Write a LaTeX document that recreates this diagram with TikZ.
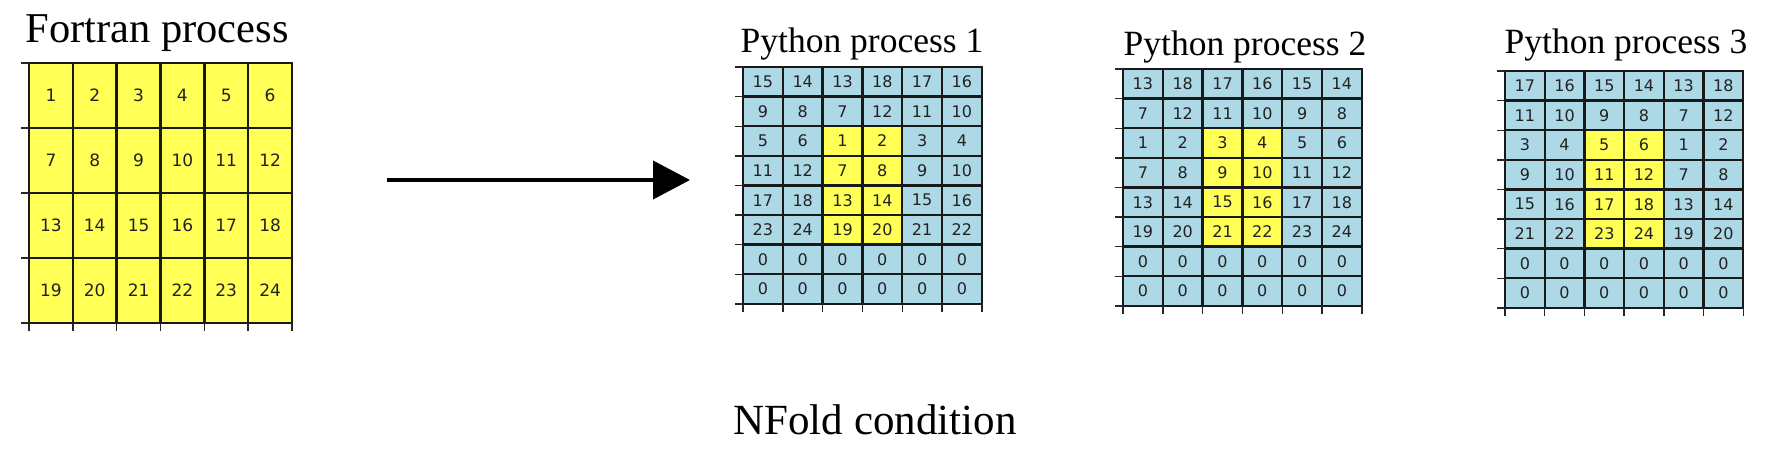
\documentclass[tikz,border=0pt]{standalone}
\usepackage{fontspec}
\setmainfont{Liberation Serif}
\newfontfamily\numfont{DejaVu Sans}
\usetikzlibrary{arrows.meta}

\definecolor{cellyellow}{RGB}{255,255,85}
\definecolor{cellblue}{RGB}{173,216,230}
\definecolor{numgray}{RGB}{34,34,34}

% [style]{name}{x0}{y0}{cell width}{cell height}{rows}{yellow test}{data}
\newcommand{\cellgrid}[9][]{%
  \foreach \row [count=\r] in {#9} {
    \foreach \v [count=\c] in \row {
      \pgfmathtruncatemacro{\hl}{#8}
      \ifnum\hl=1 \def\cc{cellyellow}\else\def\cc{cellblue}\fi
      \node[cell, fill=\cc, minimum width=#5pt, minimum height=#6pt, #1]
        (#2-\r-\c) at ({#3+(\c-0.5)*#5}, {#4+(\r-0.5)*#6}) {\v};
    }
  }
  \foreach \i in {0,...,6}
    \draw[tick] ({#3+\i*#5}, {#4+#7*#6}) -- ++(0, 8);
  \foreach \j in {0,...,#7}
    \draw[tick] (#3, {#4+\j*#6}) -- ++(-8, 0);
}

\begin{document}
\begin{tikzpicture}[x=1pt, y=-1pt]
    \tikzset{
      cell/.style={draw=black!90, line width=2.4pt, inner sep=0pt,
        text=numgray, font=\numfont\fontsize{16}{16}\selectfont},
      tick/.style={line width=1.4pt, black!85},
      title/.style={anchor=base, inner sep=0pt}
    }
    \useasboundingbox (0, 0) rectangle (1768, 474);

    % Fortran side
    \node[title, font=\fontsize{42.5}{48}\selectfont] (ftitle) at (157, 42) {Fortran process};
    \cellgrid[font=\numfont\fontsize{17}{17}\selectfont]{f}{29}{63}{43.83}{65}{4}{1}
      {{1,2,3,4,5,6},{7,8,9,10,11,12},{13,14,15,16,17,18},{19,20,21,22,23,24}}

    % Python side
    \node[title, font=\fontsize{35.5}{40}\selectfont] (p1title) at (862, 52) {Python process 1};
    \cellgrid{p1}{743}{67}{39.8}{29.6}{8}{(\r>2)&&(\r<7)&&(\c>2)&&(\c<5)}
      {{15,14,13,18,17,16},{9,8,7,12,11,10},{5,6,1,2,3,4},{11,12,7,8,9,10},
       {17,18,13,14,15,16},{23,24,19,20,21,22},{0,0,0,0,0,0},{0,0,0,0,0,0}}

    \node[title, font=\fontsize{35.5}{40}\selectfont] (p2title) at (1245, 55) {Python process 2};
    \cellgrid{p2}{1123}{69}{39.8}{29.6}{8}{(\r>2)&&(\r<7)&&(\c>2)&&(\c<5)}
      {{13,18,17,16,15,14},{7,12,11,10,9,8},{1,2,3,4,5,6},{7,8,9,10,11,12},
       {13,14,15,16,17,18},{19,20,21,22,23,24},{0,0,0,0,0,0},{0,0,0,0,0,0}}

    \node[title, font=\fontsize{35.5}{40}\selectfont] (p3title) at (1626, 53) {Python process 3};
    \cellgrid{p3}{1505}{71}{39.7}{29.6}{8}{(\r>2)&&(\r<7)&&(\c>2)&&(\c<5)}
      {{17,16,15,14,13,18},{11,10,9,8,7,12},{3,4,5,6,1,2},{9,10,11,12,7,8},
       {15,16,17,18,13,14},{21,22,23,24,19,20},{0,0,0,0,0,0},{0,0,0,0,0,0}}

    % Arrow between them
    \coordinate (from) at (387, 180);
    \coordinate (to) at (690, 180);
    \draw[line width=4pt, -{Triangle[length=37pt, width=38pt]}] (from) -- (to);

    \node[title, font=\fontsize{43}{48}\selectfont] (caption) at (875, 434) {NFold condition};
\end{tikzpicture}
\end{document}
